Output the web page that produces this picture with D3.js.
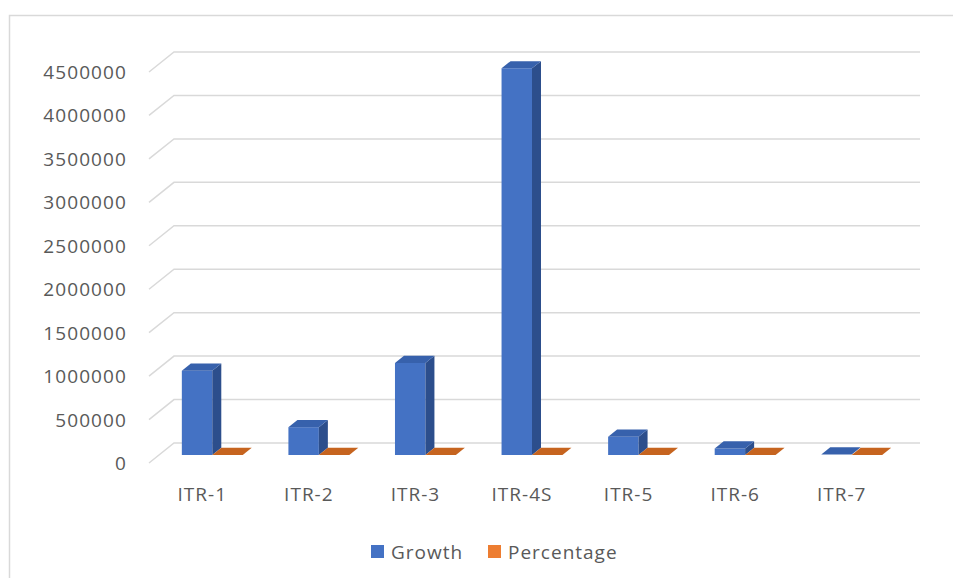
<!DOCTYPE html>
<html>
<head>
<meta charset="utf-8">
<script src="https://cdn.jsdelivr.net/npm/d3@7"></script>
<style>
  html, body { margin: 0; padding: 0; background: #fff; }
  svg { display: block; }
  text { font-family: "Open Sans", "Liberation Sans", sans-serif; fill: #595959; }
</style>
</head>
<body>
<svg id="chart" width="953" height="578"></svg>
<script>
// ---- data ----
const categories = ["ITR-1", "ITR-2", "ITR-3", "ITR-4S", "ITR-5", "ITR-6", "ITR-7"];
const seriesNames = ["Growth", "Percentage"];
const growth = [970000, 320000, 1060000, 4450000, 210000, 75000, 5000];
const percentage = [13.7, 4.5, 15.0, 62.8, 3.0, 1.0, 0.1];
const yTicks = [0, 500000, 1000000, 1500000, 2000000, 2500000, 3000000, 3500000, 4000000, 4500000];

// ---- layout ----
const W = 953, H = 578;
const floorY = 463;           // front floor line
const depthX = 25, depthY = 20; // 3D depth vector (front -> back)
const plotLeft = 149, plotRight = 895;
const barFront = 0.4, barBack = 0.76;

const colors = {
  Growth: { front: "#4472C4", top: "#3761AC", side: "#2C4E8C" },
  Percentage: { front: "#ED7D31", top: "#C6641F", side: "#B0561A" }
};

const svg = d3.select("#chart");

// chart border
svg.append("rect").attr("x", 9.5).attr("y", 15.5).attr("width", 980).attr("height", 620)
  .attr("fill", "#fff").attr("stroke", "#D9D9D9").attr("stroke-width", 1.5);

const y = d3.scaleLinear().domain([0, 4500000]).range([0, 391]);
const x0 = d3.scaleBand().domain(categories).range([plotLeft, plotRight]);
const x1 = d3.scaleBand().domain(seriesNames).range([0, x0.bandwidth()]).paddingOuter(0.75);

function P(x, v, f) { return [x + f * depthX, floorY - y(v) - f * depthY]; }
function poly(pts) { return pts.map(p => p.join(",")).join(" "); }

// gridlines: left wall diagonal + back wall horizontal
const grid = svg.append("g");
yTicks.forEach(v => {
  const a = P(plotLeft, v, 0), b = P(plotLeft, v, 1), c = P(plotRight, v, 1);
  grid.append("polyline").attr("points", poly([a, b, c]))
    .attr("fill", "none").attr("stroke", "#D9D9D9").attr("stroke-width", 1.5);
});

// y axis labels
svg.append("g").selectAll("text").data(yTicks).join("text")
  .attr("x", 127).attr("y", d => floorY - y(d))
  .attr("text-anchor", "end").attr("dominant-baseline", "central")
  .attr("font-size", 19).attr("letter-spacing", 1.1)
  .text(d => d3.format("d")(d));

// bars
const rows = categories.map((c, i) => ({ cat: c, vals: [growth[i], percentage[i]] }));
const barsG = svg.append("g");
rows.forEach(r => {
  seriesNames.forEach((s, j) => {
    const v = r.vals[j];
    const xl = x0(r.cat) + x1(s), xr = xl + x1.bandwidth();
    const col = colors[s];
    const g = barsG.append("g");
    // front face
    if (y(v) > 0.5) {
      g.append("polygon").attr("points", poly([P(xl, 0, barFront), P(xr, 0, barFront), P(xr, v, barFront), P(xl, v, barFront)]))
        .attr("fill", col.front);
      // side face
      g.append("polygon").attr("points", poly([P(xr, 0, barFront), P(xr, 0, barBack), P(xr, v, barBack), P(xr, v, barFront)]))
        .attr("fill", col.side);
    }
    // top face
    g.append("polygon").attr("points", poly([P(xl, v, barFront), P(xr, v, barFront), P(xr, v, barBack), P(xl, v, barBack)]))
      .attr("fill", col.top);
  });
});

// category labels
svg.append("g").selectAll("text").data(categories).join("text")
  .attr("x", d => x0(d) + x0.bandwidth() / 2).attr("y", 494)
  .attr("text-anchor", "middle").attr("dominant-baseline", "central")
  .attr("font-size", 19).attr("letter-spacing", 1)
  .text(d => d);

// legend
const legend = svg.append("g");
const legendItems = [{ name: "Growth", x: 371 }, { name: "Percentage", x: 488 }];
legendItems.forEach(it => {
  legend.append("rect").attr("x", it.x).attr("y", 545).attr("width", 13).attr("height", 13)
    .attr("fill", colors[it.name].front);
  legend.append("text").attr("x", it.x + 20).attr("y", 552)
    .attr("dominant-baseline", "central").attr("font-size", 19).attr("letter-spacing", 1)
    .text(it.name);
});
</script>
</body>
</html>
